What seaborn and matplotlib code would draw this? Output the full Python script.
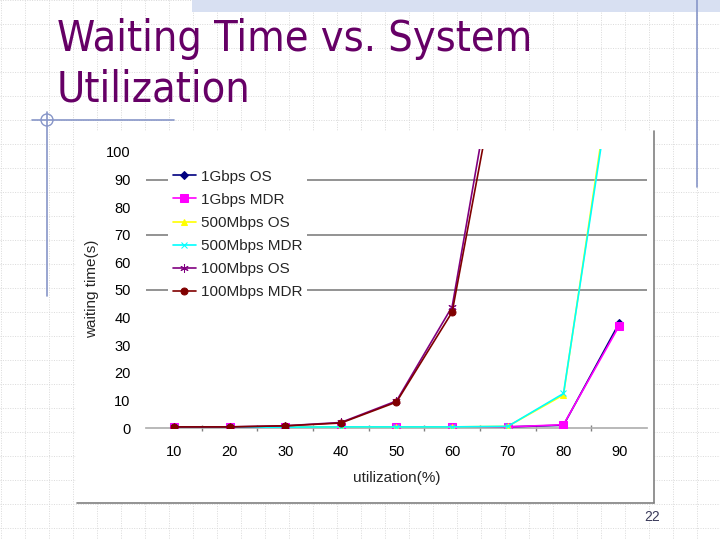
import numpy as np
import pandas as pd
import matplotlib
matplotlib.use("Agg")
import matplotlib.pyplot as plt
import seaborn as sns
from matplotlib import font_manager
from matplotlib.patches import Rectangle, Circle

# data
utilization = [10, 20, 30, 40, 50, 60, 70, 80, 90]
gbps1_os = [0.2, 0.2, 0.3, 0.3, 0.3, 0.3, 0.4, 1.0, 38]
gbps1_mdr = [0.2, 0.2, 0.3, 0.3, 0.3, 0.3, 0.4, 1.2, 37]
mbps500_os = [0.3, 0.3, 0.3, 0.4, 0.4, 0.4, 0.6, 12, 148]
mbps500_mdr = [0.3, 0.3, 0.3, 0.4, 0.4, 0.4, 0.6, 12.5, 145]
mbps100_os = [0.4, 0.4, 0.8, 2.0, 9.8, 44, 160, 420, 900]
mbps100_mdr = [0.4, 0.4, 0.8, 1.8, 9.4, 42, 150, 400, 880]

series = ["1Gbps OS", "1Gbps MDR", "500Mbps OS", "500Mbps MDR", "100Mbps OS", "100Mbps MDR"]
values = [gbps1_os, gbps1_mdr, mbps500_os, mbps500_mdr, mbps100_os, mbps100_mdr]
colors = ["#000080", "#ff00ff", "#ffff00", "#00ffff", "#800080", "#800000"]
markers = ["D", "s", "^", "x", (6, 2, 0), "o"]
msizes = [4, 6, 5, 5, 6, 5]

title_color = "#660066"
deco_blue = "#8796c8"

sns.set_theme(style="white")
plt.rcParams["font.family"] = ["Liberation Sans", "DejaVu Sans"]

# pick a narrow font for the title if one is around
fonts = font_manager.fontManager.ttflist
title_font = dict(family=["Liberation Sans"])
if any(f.name == "DejaVu Sans" and f.stretch == "condensed" for f in fonts):
    title_font = dict(family=["DejaVu Sans"], stretch="condensed")
elif any(f.name == "Liberation Sans Narrow" for f in fonts):
    title_font = dict(family=["Liberation Sans Narrow"])

fig = plt.figure(figsize=(7.2, 5.4), dpi=100)

# slide background
bg = fig.add_axes([0, 0, 1, 1])
bg.set_xlim(0, 720)
bg.set_ylim(540, 0)
bg.axis("off")
for gx in range(1, 720, 24):
    bg.plot([gx, gx], [0, 540], color="#dadada", lw=0.7, ls=(0, (1, 1.5)))
for gy in range(0, 540, 24):
    bg.plot([0, 720], [gy, gy], color="#dadada", lw=0.7, ls=(0, (1, 1.5)))
bg.add_patch(Rectangle((192, 0), 528, 12, facecolor="#d8e0f2", edgecolor="none", hatch="....", zorder=2))
bg.plot([697, 697], [0, 187], color=deco_blue, lw=1.2, zorder=3)
bg.plot([32, 174], [120, 120], color=deco_blue, lw=1.2, zorder=3)
bg.plot([47, 47], [112, 296], color=deco_blue, lw=1.2, zorder=3)
bg.add_patch(Circle((47, 120), 6, facecolor="none", edgecolor=deco_blue, lw=1, zorder=3))

# chart box
bg.add_patch(Rectangle((76, 131), 578, 372, facecolor="white", edgecolor="none", zorder=4))
bg.plot([654, 654], [131, 503], color="#808080", lw=1.2, zorder=5)
bg.plot([77, 654], [503, 503], color="#808080", lw=1.2, zorder=5)

t1 = bg.text(57, 51, "Waiting Time vs. System", fontsize=37, color=title_color,
             va="baseline", zorder=5, **title_font)
t2 = bg.text(57, 101, "Utilization", fontsize=37, color=title_color,
             va="baseline", zorder=5, **title_font)
bg.text(652, 517, "22", fontsize=10, color="#3a3a5a", ha="center", va="center", zorder=5)

# squeeze the title to the width it has on the slide
fig.canvas.draw()
w = t1.get_window_extent(fig.canvas.get_renderer()).width
size = min(37, 37 * 476 / w)
t1.set_fontsize(size)
t2.set_fontsize(size)

# chart
ax = fig.add_axes([146 / 720, (540 - 428) / 540, 501 / 720, (428 - 149.2) / 540])
ax.patch.set_alpha(0)
for yg in [50, 70, 90]:
    ax.axhline(yg, color="#808080", lw=1.2, zorder=1)

for name, vals, c, m, ms in zip(series, values, colors, markers, msizes):
    sns.lineplot(x=utilization, y=vals, ax=ax, color=c, marker=m, markersize=ms,
                 markeredgecolor=c, markerfacecolor=c, lw=1.2, label=name, zorder=3)

ax.set_xlim(5, 95)
ax.set_ylim(0, 101)
ax.set_xticks(utilization)
ax.set_yticks(range(0, 101, 10))
ax.set_xticks(np.arange(15, 90, 10), minor=True)
ax.tick_params(axis="both", which="major", length=0, labelsize=10.5, colors="black")
ax.tick_params(axis="x", which="major", pad=12)
ax.tick_params(axis="y", which="major", pad=11)
ax.tick_params(axis="x", which="minor", length=5, direction="inout", color="#808080", width=1, bottom=True)
for s in ["top", "right", "left"]:
    ax.spines[s].set_visible(False)
ax.spines["bottom"].set_color("#b0b0b0")
ax.set_xlabel("utilization(%)", fontsize=11, labelpad=9)
ax.set_ylabel("waiting time(s)", fontsize=11, labelpad=5)

leg = ax.legend(loc="upper left", bbox_to_anchor=(168 / 720, (540 - 165) / 540),
                bbox_transform=fig.transFigure, frameon=True, fontsize=11,
                handlelength=1.5, handletextpad=0.35, labelspacing=0.6,
                borderpad=0.3, borderaxespad=0)
leg.get_frame().set_facecolor("white")
leg.get_frame().set_edgecolor("none")
leg.get_frame().set_alpha(1)

fig.savefig("out.png", dpi=100)
